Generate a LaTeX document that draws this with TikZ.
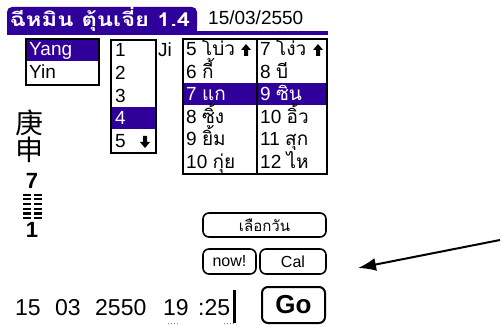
\documentclass[tikz,border=0pt]{standalone}
\usepackage{fontspec}
\setmainfont{Liberation Sans}
\newfontfamily\thai[Script=Thai]{Loma}
\newfontfamily\cjk{Noto Sans CJK SC}
\usetikzlibrary{arrows.meta}
\definecolor{pal}{RGB}{48,0,155}
\newcommand\uparrowshape[2]{\fill (#1-5,#2) -- (#1,#2-6) -- (#1+5,#2) -- (#1+2,#2) -- (#1+2,#2+6) -- (#1-2,#2+6) -- (#1-2,#2) -- cycle;}
\newcommand\downarrowshape[2]{\fill (#1-5,#2) -- (#1,#2+6) -- (#1+5,#2) -- (#1+2,#2) -- (#1+2,#2-6) -- (#1-2,#2-6) -- (#1-2,#2) -- cycle;}
\begin{document}
\begin{tikzpicture}[x=1pt,y=-1pt,
  frame/.style={draw=black,line width=1.6pt,inner sep=0pt,anchor=north west},
  lt/.style={anchor=base west,inner sep=0pt,font=\fontsize{19}{19}\selectfont},
  ltw/.style={lt,text=white},
  btn/.style={draw=black,line width=1.6pt,rounded corners=6pt,inner sep=0pt},
  big/.style={anchor=base west,inner sep=0pt,font=\fontsize{23}{23}\selectfont},
  hexline/.style={line width=2pt}
]
\useasboundingbox (0,0) rectangle (501,326);
\fill[white] (0,0) rectangle (501,326);

% title bar
\fill[pal,rounded corners=5pt] (7,31) -- (7,7) -- (197,7) -- (197,31) -- cycle;
\fill[pal] (7,20) rectangle (197,33);
\fill[pal] (7,31) rectangle (328,35);
\node[anchor=base,text=white,inner sep=0pt,font=\thai\bfseries\fontsize{19}{19}\selectfont] (title) at (100,27) {\scalebox{1.25}[1]{ฉีหมิน ตุ้นเจี่ย 1.4}};
\node[anchor=base west,inner sep=0pt,font=\fontsize{19}{19}\selectfont] (date) at (208,25) {15/03/2550};

% yang / yin list
\fill[pal] (25,38) rectangle (98,61);
\node[frame,minimum width=73pt,minimum height=46pt] (yybox) at (25,38) {};
\node[ltw] (yang) at (29,56) {Yang};
\node[lt] (yin) at (29,79) {Yin};

% number list
\fill[pal] (110,106.8) rectangle (155,129.4);
\node[frame,minimum width=45pt,minimum height=113pt] (numbox) at (110,39) {};
\node[lt] (n1) at (115,57) {1};
\node[lt] (n2) at (115,79.6) {2};
\node[lt] (n3) at (115,102.2) {3};
\node[ltw] (n4) at (115,124.8) {4};
\node[lt] (n5) at (115,147.4) {5};
\downarrowshape{145}{142}
\node[lt] (ji) at (158,57) {Ji};

% stem / branch lists
\fill[pal] (182,83) rectangle (326,105.5);
\node[frame,minimum width=74pt,minimum height=135pt] (stembox) at (182,38) {};
\node[frame,minimum width=70pt,minimum height=135pt] (branchbox) at (256,38) {};
\node[lt] (s1) at (186,56) {5 {\thai โบ่ว}};
\node[lt] (s2) at (186,78.5) {6 {\thai กี้}};
\node[ltw] (s3) at (186,101) {7 {\thai แก}};
\node[lt] (s4) at (186,123.5) {8 {\thai ซิ้ง}};
\node[lt] (s5) at (186,146) {9 {\thai ยิ้ม}};
\node[lt] (s6) at (186,168.5) {10 {\thai กุ่ย}};
\node[lt] (b1) at (260,56) {7 {\thai โง่ว}};
\node[lt] (b2) at (260,78.5) {8 {\thai บี}};
\node[ltw] (b3) at (260,101) {9 {\thai ซิน}};
\node[lt] (b4) at (260,123.5) {10 {\thai อิ้ว}};
\node[lt] (b5) at (260,146) {11 {\thai สุก}};
\node[lt] (b6) at (260,168.5) {12 {\thai ไห}};
\uparrowshape{246}{50}
\uparrowshape{318}{50}

% left column
\node[inner sep=0pt,font=\cjk\fontsize{28}{28}\selectfont] (geng) at (30,123) {庚};
\node[inner sep=0pt,font=\cjk\fontsize{28}{28}\selectfont] (shen) at (30,150) {申};
\node[inner sep=0pt,font=\bfseries\fontsize{22}{22}\selectfont] (seven) at (32,181) {7};
\foreach \yy in {195,199.5,204,209,213.5,218}{
  \draw[hexline] (23,\yy) -- (31,\yy) (34,\yy) -- (42,\yy);
}
\node[inner sep=0pt,font=\bfseries\fontsize{22}{22}\selectfont] (one) at (32,230) {1};

% buttons
\node[btn,minimum width=123pt,minimum height=24pt] (choose) at (264.5,225) {\thai\fontsize{15}{15}\selectfont เลือกวัน};
\node[btn,minimum width=53pt,minimum height=25pt,font=\fontsize{16}{16}\selectfont] (now) at (229.5,261.5) {now!};
\node[btn,minimum width=66pt,minimum height=25pt,font=\fontsize{16}{16}\selectfont] (cal) at (293,261.5) {Cal};
\node[btn,line width=2pt,minimum width=63pt,minimum height=36pt,font=\bfseries\fontsize{26}{26}\selectfont] (go) at (293.5,305) {Go};

% bottom fields
\node[big] (day) at (15,315) {15};
\node[big] (month) at (55,315) {03};
\node[big] (year) at (95,315) {2550};
\node[big] (hour) at (163,315) {19};
\node[big] (minute) at (198,315) {:25};
\fill (233,290) rectangle (236,323);
\draw[gray,dotted,line width=1pt] (168,323) -- (178,323);
\draw[gray,dotted,line width=1pt] (224,323) -- (234,323);

% pointer arrow
\coordinate (astart) at (500,240);
\coordinate (atip) at (358,268);
\draw[line width=2pt,-{Latex[length=18pt,width=13pt]}] (astart) -- (atip);
\end{tikzpicture}
\end{document}
